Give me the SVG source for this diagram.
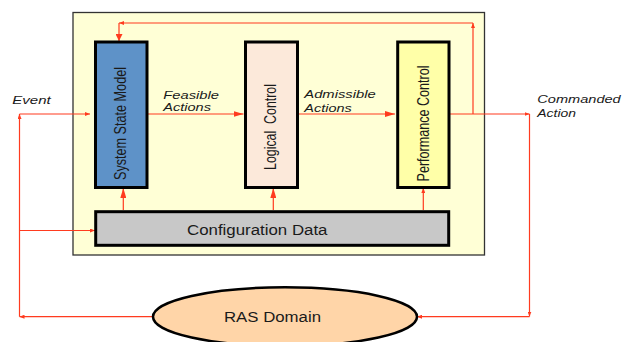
<svg xmlns="http://www.w3.org/2000/svg" width="624" height="342" viewBox="0 0 624 342">
  <style>
    .lbl { font-family: "Liberation Sans", Arial, sans-serif; font-style: italic; font-size: 11.6px; fill: #1a1a1a; }
    .vt { font-family: "Liberation Sans", Arial, sans-serif; font-size: 16px; fill: #1a1a1a; }
    .tx { font-family: "Liberation Sans", Arial, sans-serif; font-size: 14px; fill: #1a1a1a; }
    .box { stroke: #000; stroke-width: 3; }
    .ln { fill: none; stroke: #ff3b1f; stroke-width: 1.2; }
  </style>
  <defs>
    <marker id="big" viewBox="0 0 10 6" refX="10" refY="3" markerWidth="10" markerHeight="6" markerUnits="userSpaceOnUse" orient="auto">
      <path d="M0,0 L10,3 L0,6 Z" fill="#ff3b1f"/>
    </marker>
    <marker id="mid" viewBox="0 0 7 7" refX="7" refY="3.5" markerWidth="7" markerHeight="7" markerUnits="userSpaceOnUse" orient="auto">
      <path d="M0,0 L7,3.5 L0,7 Z" fill="#ff3b1f"/>
    </marker>
    <marker id="sm" viewBox="0 0 5 4" refX="5" refY="2" markerWidth="5" markerHeight="4" markerUnits="userSpaceOnUse" orient="auto">
      <path d="M0,0 L5,2 L0,4 Z" fill="#ff3b1f"/>
    </marker>
  </defs>

  <g id="frame">
    <rect x="73" y="12.5" width="411.5" height="242.5" fill="#ffffd6" stroke="#333" stroke-width="1.3"/>
  </g>

  <g id="connectors">
    <!-- Event feedback from RAS to SSM -->
    <path class="ln" d="M153,316.7 H19.5" marker-end="url(#sm)"/>
    <path class="ln" d="M19.5,316.7 V114" marker-end="url(#sm)"/>
    <path class="ln" d="M19.5,114 H90" marker-end="url(#sm)"/>
    <path class="ln" d="M19.5,230.5 H95" marker-end="url(#sm)"/>
    <!-- main flow -->
    <path class="ln" d="M147,114 H243.5" marker-end="url(#big)"/>
    <path class="ln" d="M298,114 H395" marker-end="url(#big)"/>
    <!-- commanded action -->
    <path class="ln" d="M450,114 H529.5" marker-end="url(#sm)"/>
    <path class="ln" d="M529.5,114 V316.5" marker-end="url(#sm)"/>
    <path class="ln" d="M529.5,316.7 H417" marker-end="url(#sm)"/>
    <!-- top feedback -->
    <path class="ln" d="M473,114 V23" marker-end="url(#sm)"/>
    <path class="ln" d="M473,23 H119" marker-end="url(#sm)"/>
    <path class="ln" d="M119,23 V41" marker-end="url(#mid)"/>
    <!-- configuration data arrows -->
    <path class="ln" d="M123.3,210 V188" marker-end="url(#big)"/>
    <path class="ln" d="M273.3,210 V188" marker-end="url(#big)"/>
    <path class="ln" d="M423.3,210 V188" marker-end="url(#sm)"/>
  </g>

  <g id="ssm">
    <rect class="box" x="95.5" y="42" width="51.5" height="145.5" fill="#5e92c8"/>
    <text class="vt" transform="translate(126,180) rotate(-90)" textLength="113" lengthAdjust="spacingAndGlyphs">System State Model</text>
  </g>

  <g id="lc">
    <rect class="box" x="245.5" y="42" width="52" height="145.5" fill="#fce9da"/>
    <text class="vt" xml:space="preserve" transform="translate(275.5,170) rotate(-90)" textLength="86" lengthAdjust="spacingAndGlyphs">Logical  Control</text>
  </g>

  <g id="pc">
    <rect class="box" x="397.7" y="42" width="51.3" height="145.5" fill="#ffffa8"/>
    <text class="vt" transform="translate(428.5,181.5) rotate(-90)" textLength="116" lengthAdjust="spacingAndGlyphs">Performance Control</text>
  </g>

  <g id="config">
    <rect class="box" x="95.7" y="211.7" width="353" height="33.6" fill="#c8c8c8"/>
    <text class="tx" x="187" y="234.5" textLength="140.5" lengthAdjust="spacingAndGlyphs">Configuration Data</text>
  </g>

  <g id="ras">
    <ellipse cx="285" cy="316.7" rx="132" ry="29.4" fill="#ffd5a8" stroke="#000" stroke-width="2.5"/>
    <text class="tx" x="224" y="321.7" textLength="97" lengthAdjust="spacingAndGlyphs">RAS Domain</text>
  </g>

  <g id="labels">
    <text class="lbl" x="12.3" y="104" textLength="38.4" lengthAdjust="spacingAndGlyphs">Event</text>
    <text class="lbl" x="163.3" y="98.7" textLength="55.7" lengthAdjust="spacingAndGlyphs">Feasible</text>
    <text class="lbl" x="163.3" y="111.3" textLength="47.7" lengthAdjust="spacingAndGlyphs">Actions</text>
    <text class="lbl" x="304.3" y="98.3" textLength="71.4" lengthAdjust="spacingAndGlyphs">Admissible</text>
    <text class="lbl" x="304.3" y="111.7" textLength="47.4" lengthAdjust="spacingAndGlyphs">Actions</text>
    <text class="lbl" x="537.3" y="103.3" textLength="83.4" lengthAdjust="spacingAndGlyphs">Commanded</text>
    <text class="lbl" x="537.3" y="116.7" textLength="38.7" lengthAdjust="spacingAndGlyphs">Action</text>
  </g>
</svg>
